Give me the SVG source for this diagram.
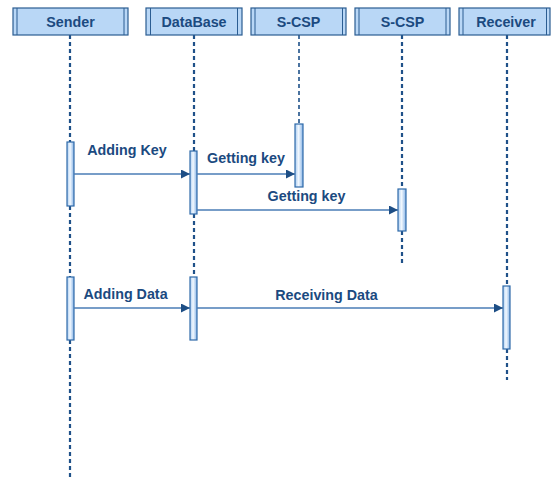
<svg xmlns="http://www.w3.org/2000/svg" width="553" height="478" viewBox="0 0 553 478">
<defs>
<linearGradient id="act" x1="0" y1="0" x2="1" y2="0">
<stop offset="0" stop-color="#a9ccf1"/>
<stop offset="0.45" stop-color="#f2f8fe"/>
<stop offset="1" stop-color="#86b3e6"/>
</linearGradient>
<marker id="arr" viewBox="0 0 10 10" refX="10" refY="5" markerWidth="9" markerHeight="9" markerUnits="userSpaceOnUse" orient="auto">
<path d="M0,0 L10,5 L0,10 z" fill="#1d4e85"/>
</marker>
<style>
.hdr{fill:#b9d7f6;stroke:#2b5d92;stroke-width:1.2}
.in{stroke:#2b5d92;stroke-width:1}
.ht{font-family:"Liberation Sans",Arial,sans-serif;font-weight:bold;font-size:14.3px;fill:#1b4a80;text-anchor:middle}
.life{stroke:#1f5189;stroke-width:2.2;stroke-dasharray:4 3;fill:none}
.act{fill:url(#act);stroke:#2f6aa9;stroke-width:1.2}
.msg{stroke:#4a7cb6;stroke-width:1.5;fill:none;marker-end:url(#arr)}
.ml{font-family:"Liberation Sans",Arial,sans-serif;font-weight:bold;font-size:14.3px;fill:#1b4a80;text-anchor:middle}
</style>
</defs>
<rect width="553" height="478" fill="#ffffff"/>

<g id="lifelines">
<path class="life" d="M70,35 V142 M70,206 V277 M70,340 V478"/>
<path class="life" d="M194,35 V151 M194,214 V277"/>
<path class="life" d="M299,35 V124" style="stroke-width:1.6"/>
<path class="life" d="M402,35 V189 M402,231 V265"/>
<path class="life" d="M507,35 V286 M507,349 V380"/>
</g>

<g id="sender">
<rect class="hdr" x="13" y="8" width="115" height="27"/>
<path class="in" d="M17,8 V35 M124,8 V35"/>
<text class="ht" x="70.5" y="27">Sender</text>
<rect class="act" x="67" y="142" width="7" height="64"/>
<rect class="act" x="67" y="277" width="7" height="63"/>
</g>

<g id="database">
<rect class="hdr" x="146" y="8" width="96" height="27"/>
<path class="in" d="M150.5,8 V35 M237.5,8 V35"/>
<text class="ht" x="194" y="27">DataBase</text>
<rect class="act" x="190" y="151" width="7" height="63"/>
<rect class="act" x="190" y="277" width="7" height="63"/>
</g>

<g id="scsp1">
<rect class="hdr" x="251" y="8" width="95" height="27"/>
<path class="in" d="M255,8 V35 M342.5,8 V35"/>
<text class="ht" x="298.5" y="27">S-CSP</text>
<rect class="act" x="295" y="124" width="8" height="63"/>
</g>

<g id="scsp2">
<rect class="hdr" x="355" y="8" width="95" height="27"/>
<path class="in" d="M359,8 V35 M446,8 V35"/>
<text class="ht" x="402.5" y="27">S-CSP</text>
<rect class="act" x="398" y="189" width="8" height="42"/>
</g>

<g id="receiver">
<rect class="hdr" x="459" y="8" width="91" height="27"/>
<path class="in" d="M463,8 V35 M546.5,8 V35"/>
<text class="ht" x="506" y="27">Receiver</text>
<rect class="act" x="503" y="286" width="7" height="63"/>
</g>

<g id="connectors">
<line class="msg" x1="74" y1="174" x2="190" y2="174"/>
<line class="msg" x1="197" y1="174" x2="295" y2="174"/>
<line class="msg" x1="197" y1="210" x2="398" y2="210"/>
<line class="msg" x1="74" y1="308" x2="190" y2="308"/>
<line class="msg" x1="197" y1="308" x2="503" y2="308"/>
<text class="ml" x="127" y="155">Adding Key</text>
<text class="ml" x="246" y="163">Getting key</text>
<text class="ml" x="306.5" y="201">Getting key</text>
<text class="ml" x="125.5" y="299">Adding Data</text>
<text class="ml" x="326.5" y="300">Receiving Data</text>
</g>
</svg>
